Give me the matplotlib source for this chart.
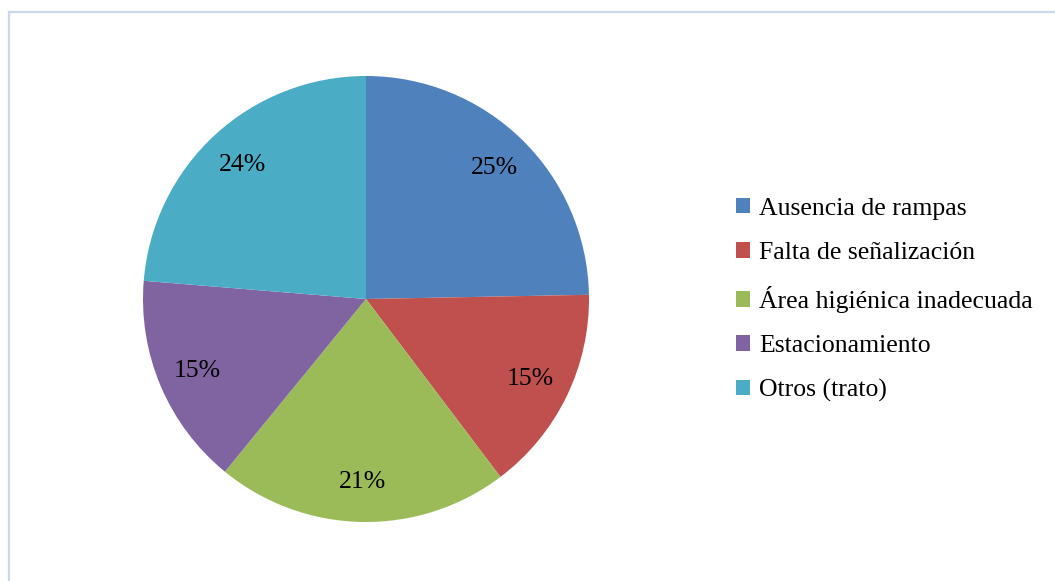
import matplotlib
matplotlib.use('Agg')
import matplotlib.pyplot as plt
from matplotlib.lines import Line2D

labels = ['Ausencia de rampas', 'Falta de señalización', 'Área higiénica inadecuada',
          'Estacionamiento', 'Otros (trato)']
values = [24.7, 15.0, 21.2, 15.4, 23.7]
colors = ['#4F81BD', '#C0504D', '#9BBB59', '#8064A2', '#4BACC6']

plt.rcParams['font.family'] = ['Liberation Serif', 'DejaVu Serif']

W, H = 1055, 581
fig = plt.figure(figsize=(W / 100, H / 100), dpi=100)

# pie area: center (366, 299), radius 223 px
cx, cy, r = 366, 299, 223
ax = fig.add_axes([(cx - r) / W, 1 - (cy + r) / H, 2 * r / W, 2 * r / H])
wedges, texts, autotexts = ax.pie(values, colors=colors, startangle=90, counterclock=False,
                                  radius=1, autopct='%1.0f%%', pctdistance=0.82,
                                  textprops={'fontsize': 18.5, 'color': 'black'})
ax.set_xlim(-1, 1)
ax.set_ylim(-1, 1)
ax.set_aspect('equal')
ax.axis('off')

fig.legend(wedges, labels, loc='center left', bbox_to_anchor=(723 / W, 1 - 300 / H),
           frameon=False, fontsize=18.5, handlelength=0.55, handleheight=0.55,
           handletextpad=0.35, labelspacing=0.86, borderpad=0)

# light border of the chart area
bc = '#C9D8EC'
fig.add_artist(Line2D([8.5 / W, 8.5 / W], [0, 1 - 11.5 / H], color=bc, lw=1.6,
                      transform=fig.transFigure))
fig.add_artist(Line2D([8.5 / W, 1], [1 - 11.5 / H, 1 - 11.5 / H], color=bc, lw=1.6,
                      transform=fig.transFigure))

fig.savefig('out.png', dpi=100)
